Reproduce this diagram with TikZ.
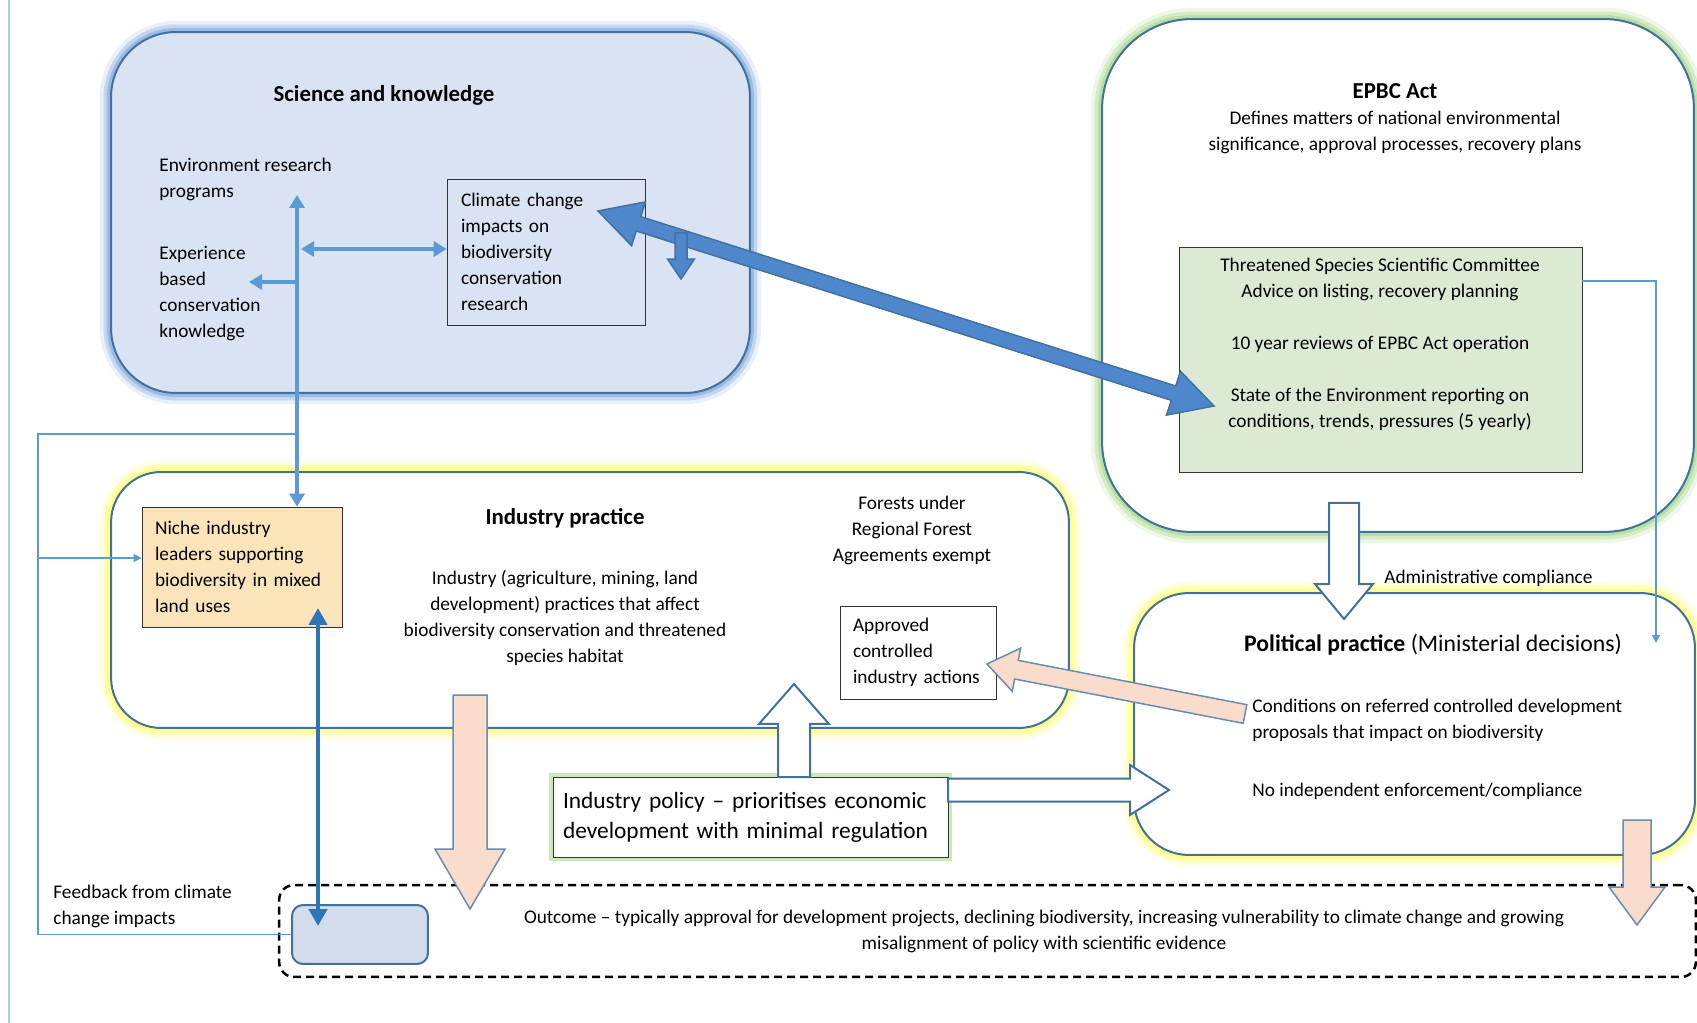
\documentclass[tikz,border=0pt]{standalone}
\usepackage{fontspec}
\setmainfont{Carlito}
\usetikzlibrary{positioning,calc,arrows.meta}

\definecolor{boxblue}{HTML}{41719C}
\definecolor{sciblue}{HTML}{DAE3F3}
\definecolor{lineblue}{HTML}{5B9BD5}
\definecolor{darkblue}{HTML}{2E75B6}
\definecolor{arrblue}{HTML}{4F87CC}
\definecolor{peach}{HTML}{F9DCCB}
\definecolor{nichefill}{HTML}{FCE4BA}
\definecolor{tsscfill}{HTML}{DCEAD4}
\definecolor{grayfill}{HTML}{D3DCEA}
\definecolor{glowblue}{HTML}{6F9EDB}
\definecolor{glowyellow}{HTML}{FFFF70}
\definecolor{glowgreen}{HTML}{A8D98A}

% block arrow: style, from, to, shaft half width, head half width, head length
\newcommand{\blockarrow}[6]{%
  \coordinate (bahead) at ($(#3)!#6!(#2)$);
  \draw[#1] ($(#2)!#4!90:(#3)$) -- ($(bahead)!#4!90:(#3)$) -- ($(bahead)!#5!90:(#3)$)
    -- (#3) -- ($(bahead)!#5!-90:(#3)$) -- ($(bahead)!#4!-90:(#3)$)
    -- ($(#2)!#4!-90:(#3)$) -- cycle;
}
% block arrow with two heads
\newcommand{\dblockarrow}[6]{%
  \coordinate (baheadA) at ($(#2)!#6!(#3)$);
  \coordinate (baheadB) at ($(#3)!#6!(#2)$);
  \draw[#1] (#2) -- ($(baheadA)!#5!90:(#3)$) -- ($(baheadA)!#4!90:(#3)$)
    -- ($(baheadB)!#4!90:(#3)$) -- ($(baheadB)!#5!90:(#3)$) -- (#3)
    -- ($(baheadB)!#5!-90:(#3)$) -- ($(baheadB)!#4!-90:(#3)$)
    -- ($(baheadA)!#4!-90:(#3)$) -- ($(baheadA)!#5!-90:(#3)$) -- cycle;
}

\begin{document}
\begin{tikzpicture}[x=0.02cm, y=-0.02cm,
  txt/.style={font=\fontsize{11}{14.8}\selectfont, inner sep=0pt},
  ttl/.style={font=\fontsize{13}{16}\selectfont\bfseries, inner sep=0pt},
  bigbox/.style={draw=boxblue, line width=0.04cm, fill=white},
  blueglow/.style={preaction={draw=glowblue, line width=0.45cm, opacity=0.15},
                   preaction={draw=glowblue, line width=0.3cm, opacity=0.3},
                   preaction={draw=glowblue, line width=0.16cm, opacity=0.5}},
  yellowglow/.style={preaction={draw=glowyellow, line width=0.45cm, opacity=0.2},
                     preaction={draw=glowyellow, line width=0.3cm, opacity=0.35},
                     preaction={draw=glowyellow, line width=0.16cm, opacity=0.6}},
  greenglow/.style={preaction={draw=glowgreen, line width=0.45cm, opacity=0.2},
                    preaction={draw=glowgreen, line width=0.3cm, opacity=0.35},
                    preaction={draw=glowgreen, line width=0.16cm, opacity=0.6}},
  sciarrow/.style={draw=lineblue, line width=0.075cm, >={Triangle[width=0.3cm, length=0.26cm]}},
  darkarrow/.style={draw=darkblue, line width=0.09cm, >={Triangle[width=0.36cm, length=0.34cm]}},
  fbline/.style={draw=lineblue, line width=0.025cm, >={Triangle[width=0.16cm, length=0.16cm]}},
  barblue/.style={fill=arrblue, draw=boxblue, line width=0.03cm},
  barpeach/.style={fill=peach, draw=boxblue!80, line width=0.03cm},
  barwhite/.style={fill=white, draw=boxblue, line width=0.04cm}]

  \clip (0,0) rectangle (1697,1023);
  \fill[white] (0,0) rectangle (1697,1023);
  \draw[draw=lineblue!50, line width=0.025cm] (9,0) -- (9,1023);

  % Kaesten
  \node[bigbox, blueglow, fill=sciblue, rounded corners=1.3cm, minimum width=12.78cm, minimum height=7.22cm] (science) at (430.5,212.5) {};
  \node[bigbox, yellowglow, rounded corners=1cm, minimum width=19.16cm, minimum height=5.12cm] (industry) at (590,600) {};
  \node[bigbox, greenglow, rounded corners=1.8cm, minimum width=11.84cm, minimum height=10.26cm] (epbc) at (1398,275.5) {};
  \node[bigbox, yellowglow, rounded corners=1.1cm, minimum width=11.22cm, minimum height=5.24cm] (political) at (1414.5,724) {};
  \node[draw=black, dash pattern=on 0.16cm off 0.1cm, line width=0.05cm, rounded corners=0.3cm, minimum width=28.34cm, minimum height=1.84cm] (outcome) at (987.5,931) {};

  \node[txt, draw=black!80, align=left, text width=3.4cm, minimum width=3.96cm, minimum height=2.92cm, inner xsep=0.28cm] (climate) at (546,252) {Climate change\\impacts on\\biodiversity\\conservation\\research};
  \node[txt, draw=black!80, fill=nichefill, align=left, text width=3.48cm, minimum width=4cm, minimum height=2.4cm, inner xsep=0.26cm] (niche) at (242,567) {Niche industry\\leaders supporting\\biodiversity in mixed\\land uses};
  \node[txt, draw=black!80, align=left, text width=2.6cm, minimum width=3.12cm, minimum height=1.86cm, inner xsep=0.26cm] (approved) at (918,652.5) {Approved\\controlled\\industry actions};
  \node[draw=black!80, fill=tsscfill, minimum width=8.06cm, minimum height=4.5cm] (tssc) at (1380.5,359.5) {};
  \node[draw=black!80, fill=white, preaction={draw=glowgreen, line width=0.16cm, opacity=0.6}, font=\fontsize{13.3}{17}\selectfont, align=left, text width=7.5cm, minimum width=7.9cm, minimum height=1.6cm, inner xsep=0.2cm, inner ysep=0pt] (policy) at (750.5,817) {Industry policy -- prioritises economic\\development with minimal regulation};
  \node[draw=boxblue, fill=grayfill, line width=0.04cm, rounded corners=0.22cm, minimum width=2.72cm, minimum height=1.18cm] (gray) at (360,934.5) {};

  % Texte
  \node[ttl] (scititle) at (384,95) {Science and knowledge};
  \node[txt, align=left, anchor=west] (envres) at (159,179) {Environment research\\programs};
  \node[txt, align=left, anchor=west] (expknow) at (159,294) {Experience\\based\\conservation\\knowledge};
  \node[ttl] (indtitle) at (565,518) {Industry practice};
  \node[txt, align=center] (indtxt) at (565,618) {Industry (agriculture, mining, land\\development) practices that affect\\biodiversity conservation and threatened\\species habitat};
  \node[txt, align=center] (forests) at (912,530) {Forests under\\Regional Forest\\Agreements exempt};
  \node[ttl] (epbctitle) at (1395,91) {EPBC Act};
  \node[txt, align=center] (epbctxt) at (1395,132) {Defines matters of national environmental\\significance, approval processes, recovery plans};
  \node[txt, align=center] (tssctxt) at (1380,344.5) {Threatened Species Scientific Committee\\Advice on listing, recovery planning\\[14.8pt]10 year reviews of EPBC Act operation\\[14.8pt]State of the Environment reporting on\\conditions, trends, pressures (5 yearly)};
  \node[txt, anchor=west] (admin) at (1384,578) {Administrative compliance};
  \node[font=\fontsize{13.5}{17}\selectfont, inner sep=0pt] (poltitle) at (1433,645) {\textbf{Political practice} (Ministerial decisions)};
  \node[txt, align=left, anchor=west] (conditions) at (1252,720) {Conditions on referred controlled development\\proposals that impact on biodiversity};
  \node[txt, anchor=west] (enforce) at (1252,791) {No independent enforcement/compliance};
  \node[txt, align=left, anchor=west] (feedback) at (53,906) {Feedback from climate\\change impacts};
  \node[font=\fontsize{11}{14.8}\selectfont, align=center, inner sep=0pt] (outtxt) at (1044,931) {Outcome -- typically approval for development projects, declining biodiversity, increasing vulnerability to climate change and growing\\misalignment of policy with scientific evidence};

  % Linien
  \coordinate (vtop) at (297,195);
  \coordinate (hjoin) at (301,249);
  \coordinate (ejoin) at (297,282);
  \coordinate (etip) at (249,282);
  \draw[sciarrow, <->] (vtop) -- (vtop |- niche.north);
  \draw[sciarrow, <->] (hjoin) -- (hjoin -| climate.west);
  \draw[sciarrow, ->] (ejoin) -- (etip);

  \coordinate (fbcorner) at (38,434);
  \coordinate (nichein) at (38,558);
  \draw[fbline] (gray.west) -| (fbcorner) -- (fbcorner -| vtop);
  \draw[fbline, ->] (nichein) -- (nichein -| niche.west);

  \coordinate (tsscbend) at (1656,281);
  \coordinate (poltip) at (1656,643);
  \draw[fbline, ->] (tsscbend -| tssc.east) -- (tsscbend) -- (poltip);

  \coordinate (nichebot) at (318,608);
  \coordinate (graytop) at (318,926);
  \draw[darkarrow, <->] (nichebot) -- (graytop);

  % Blockpfeile
  \coordinate (diagA) at (598,211);
  \coordinate (diagB) at (1214,406);
  \dblockarrow{barblue}{diagA}{diagB}{0.15cm}{0.46cm}{0.85cm}
  \coordinate (clima) at (681,233);
  \coordinate (climb) at (681,279);
  \blockarrow{barblue}{clima}{climb}{0.12cm}{0.27cm}{0.4cm}

  \coordinate (inddownA) at (470,695);
  \coordinate (inddownB) at (470,909);
  \blockarrow{barpeach}{inddownA}{inddownB}{0.34cm}{0.7cm}{1.2cm}
  \coordinate (polupA) at (794,777);
  \coordinate (polupB) at (794,684);
  \blockarrow{barwhite}{polupA}{polupB}{0.32cm}{0.7cm}{0.8cm}
  \coordinate (polrightA) at (948,790);
  \coordinate (polrightB) at (1169,790);
  \blockarrow{barwhite}{polrightA}{polrightB}{0.23cm}{0.5cm}{0.78cm}
  \coordinate (condA) at (1245,714);
  \coordinate (condB) at (987,664);
  \blockarrow{barpeach}{condA}{condB}{0.19cm}{0.44cm}{0.6cm}
  \coordinate (epbcA) at (1344,503);
  \coordinate (epbcB) at (1344,619);
  \blockarrow{barwhite}{epbcA}{epbcB}{0.3cm}{0.58cm}{0.7cm}
  \coordinate (poldownA) at (1637,820);
  \coordinate (poldownB) at (1637,925);
  \blockarrow{barpeach}{poldownA}{poldownB}{0.28cm}{0.56cm}{0.76cm}
\end{tikzpicture}
\end{document}
